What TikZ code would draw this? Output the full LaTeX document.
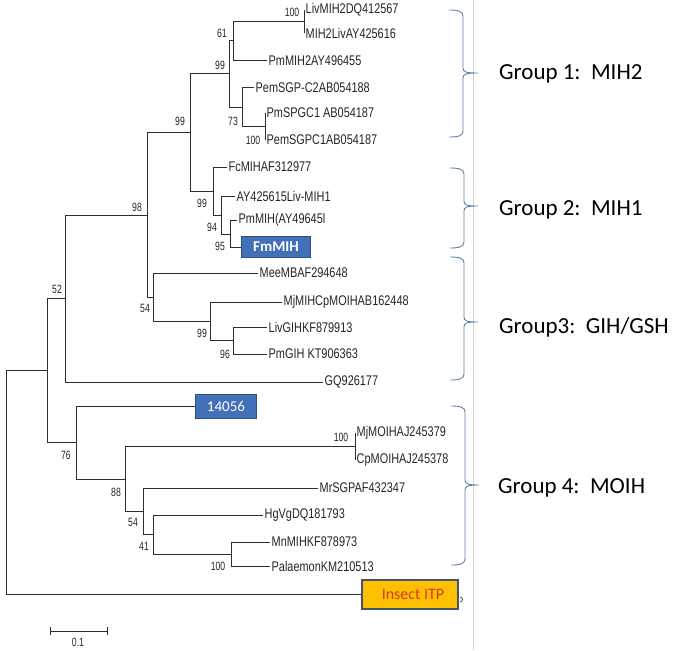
\documentclass[tikz,border=0pt]{standalone}
\usepackage{fontspec}
\setmainfont{Carlito}
\newfontfamily\tipfam[FakeStretch=0.78]{Liberation Sans}
\newfontfamily\bsfam[FakeStretch=0.72]{Liberation Sans}
\definecolor{treec}{RGB}{45,45,45}
\definecolor{bracec}{RGB}{95,130,172}
\definecolor{boxblue}{RGB}{66,113,184}
\definecolor{boxblueline}{RGB}{45,80,140}
\definecolor{itpfill}{RGB}{255,192,0}
\definecolor{itpline}{RGB}{68,84,106}
\definecolor{itptext}{RGB}{215,55,30}
\begin{document}
\begin{tikzpicture}[x=1pt,y=-1pt,
  branch/.style={draw=treec,line width=1pt},
  tip/.style={anchor=west,inner sep=1.5pt,font=\tipfam\fontsize{14}{14}\selectfont,text=black!85},
  bs/.style={inner sep=0pt,font=\bsfam\fontsize{12}{12}\selectfont,text=black!85},
  bluebox/.style={anchor=west,draw=boxblueline,line width=1pt,fill=boxblue,text=white,inner sep=0pt,font=\fontsize{15}{15}\selectfont},
  bracepath/.style={draw=bracec,line width=0.9pt},
  grouplab/.style={anchor=west,inner sep=0pt,font=\fontsize{23}{23}\selectfont,text=black}]
\useasboundingbox (0,0) rectangle (676,650);
\fill[white] (0,0) rectangle (676,650);
\draw[gray!35,line width=1pt] (473,0) -- (473,650);

% ---- coordinates: group 1
\coordinate (t1) at (304,10);
\coordinate (t2) at (304,33);
\coordinate (n100a) at (304,21.5);
\coordinate (t3) at (267,61);
\coordinate (n61) at (233,41);
\coordinate (t4) at (254,88);
\coordinate (t5) at (265,113);
\coordinate (t6) at (265,140);
\coordinate (n100b) at (265,126.5);
\coordinate (n73) at (242,107);
\coordinate (n99a) at (229,74);
% group 2
\coordinate (t7) at (227,167);
\coordinate (t8) at (235,196);
\coordinate (t9) at (237,220);
\coordinate (t10) at (241,247);
\coordinate (n95) at (230,234);
\coordinate (n94) at (221,215);
\coordinate (n99b) at (213,191);
\coordinate (n99c) at (190,132);
% group 3
\coordinate (t11) at (258,273);
\coordinate (t12) at (282,302);
\coordinate (t13) at (267,327);
\coordinate (t14) at (267,354);
\coordinate (n96) at (233,340.5);
\coordinate (n99d) at (210,321);
\coordinate (n54a) at (153,297);
\coordinate (n98) at (147,215);
\coordinate (t15) at (323,382);
\coordinate (n52) at (65,298);
\coordinate (n45) at (47,370);
% group 4
\coordinate (t16) at (195,406);
\coordinate (t17) at (355,433);
\coordinate (t18) at (355,460);
\coordinate (n100c) at (355,446.5);
\coordinate (t19) at (318,488);
\coordinate (t20) at (263,515);
\coordinate (t21) at (270,542);
\coordinate (t22) at (270,566);
\coordinate (n100d) at (231,554);
\coordinate (n41) at (153,534.5);
\coordinate (n54b) at (143,511);
\coordinate (n88) at (125,479);
\coordinate (n76) at (76,442.5);
\coordinate (root) at (6,482);
\coordinate (t23) at (361,594);

% ---- tip labels
\node[tip] (L1) at (t1) {LivMIH2DQ412567};
\node[tip] (L2) at (t2) {MIH2LivAY425616};
\node[tip] (L3) at (t3) {PmMIH2AY496455};
\node[tip] (L4) at (t4) {PemSGP-C2AB054188};
\node[tip] (L5) at (t5) {PmSPGC1 AB054187};
\node[tip] (L6) at (t6) {PemSGPC1AB054187};
\node[tip] (L7) at (t7) {FcMIHAF312977};
\node[tip] (L8) at (t8) {AY425615Liv-MIH1};
\node[tip] (L9) at (t9) {PmMIH(AY49645l};
\node[bluebox,minimum width=69pt,minimum height=21pt,font=\bfseries\fontsize{15}{15}\selectfont] (L10) at (t10) {FmMIH};
\node[tip] (L11) at (t11) {MeeMBAF294648};
\node[tip] (L12) at (t12) {MjMIHCpMOIHAB162448};
\node[tip] (L13) at (t13) {LivGIHKF879913};
\node[tip] (L14) at (t14) {PmGIH KT906363};
\node[tip] (L15) at (t15) {GQ926177};
\node[bluebox,minimum width=61pt,minimum height=24pt] (L16) at (t16) {14056};
\node[tip] (L17) at (t17) {MjMOIHAJ245379};
\node[tip] (L18) at (t18) {CpMOIHAJ245378};
\node[tip] (L19) at (t19) {MrSGPAF432347};
\node[tip] (L20) at (t20) {HgVgDQ181793};
\node[tip] (L21) at (t21) {MnMIHKF878973};
\node[tip] (L22) at (t22) {PalaemonKM210513};
\node[anchor=west,draw=itpline,line width=2pt,fill=itpfill,text=itptext,minimum width=96pt,minimum height=29pt,inner sep=0pt,font=\fontsize{16}{16}\selectfont] (L23) at (t23) {\hspace*{6pt}Insect ITP};
\draw[itpline,line width=0.8pt] ([xshift=1pt,yshift=-3pt]L23.east) arc[start angle=90,end angle=-90,radius=2.5pt];

% ---- branches
\draw[branch] (n100a) |- (t1);
\draw[branch] (n100a) |- (t2);
\draw[branch] (n61) |- (n100a);
\draw[branch] (n61) |- (t3);
\draw[branch] (n100b) |- (t5);
\draw[branch] (n100b) |- (t6);
\draw[branch] (n73) |- (t4);
\draw[branch] (n73) |- (n100b);
\draw[branch] (n99a) |- (n61);
\draw[branch] (n99a) |- (n73);
\draw[branch] (n95) |- (t9);
\draw[branch] (n95) |- (L10.west);
\draw[branch] (n94) |- (t8);
\draw[branch] (n94) |- (n95);
\draw[branch] (n99b) |- (t7);
\draw[branch] (n99b) |- (n94);
\draw[branch] (n99c) |- (n99a);
\draw[branch] (n99c) |- (n99b);
\draw[branch] (n96) |- (t13);
\draw[branch] (n96) |- (t14);
\draw[branch] (n99d) |- (t12);
\draw[branch] (n99d) |- (n96);
\draw[branch] (n54a) |- (t11);
\draw[branch] (n54a) |- (n99d);
\draw[branch] (n98) |- (n99c);
\draw[branch] (n98) |- (n54a);
\draw[branch] (n52) |- (n98);
\draw[branch] (n52) |- (t15);
\draw[branch] (n100c) |- (t17);
\draw[branch] (n100c) |- (t18);
\draw[branch] (n100d) |- (t21);
\draw[branch] (n100d) |- (t22);
\draw[branch] (n41) |- (t20);
\draw[branch] (n41) |- (n100d);
\draw[branch] (n54b) |- (t19);
\draw[branch] (n54b) |- (n41);
\draw[branch] (n88) |- (n100c);
\draw[branch] (n88) |- (n54b);
\draw[branch] (n76) |- (L16.west);
\draw[branch] (n76) |- (n88);
\draw[branch] (n45) |- (n52);
\draw[branch] (n45) |- (n76);
\draw[branch] (root) |- (n45);
\draw[branch] (root) |- (L23.west);

% ---- bootstrap values
\node[bs] (b1) at (292,12) {100};
\node[bs] (b2) at (222,33) {61};
\node[bs] (b3) at (220,65) {99};
\node[bs] (b4) at (233,121) {73};
\node[bs] (b5) at (253,140) {100};
\node[bs] (b6) at (180,121) {99};
\node[bs] (b7) at (202,203) {99};
\node[bs] (b8) at (212,227) {94};
\node[bs] (b9) at (220,246) {95};
\node[bs] (b10) at (137,207) {98};
\node[bs] (b11) at (145,308) {54};
\node[bs] (b12) at (202,333) {99};
\node[bs] (b13) at (225,354) {96};
\node[bs] (b14) at (57,289) {52};
\node[bs] (b15) at (341,437) {100};
\node[bs] (b16) at (66,455) {76};
\node[bs] (b17) at (116,492) {88};
\node[bs] (b18) at (133,522) {54};
\node[bs] (b19) at (144,546) {41};
\node[bs] (b20) at (218,566) {100};

% ---- scale bar
\coordinate (s1) at (50,631);
\coordinate (s2) at (107,631);
\draw[branch,line width=0.8pt] (s1) -- (s2);
\draw[branch,line width=0.8pt] ([yshift=-4pt]s1) -- ([yshift=4pt]s1);
\draw[branch,line width=0.8pt] ([yshift=-4pt]s2) -- ([yshift=4pt]s2);
\node[bs] (sl) at (78,642.5) {0.1};

% ---- group braces
\coordinate (g1) at (478,73);
\coordinate (g2) at (478,206);
\coordinate (g3) at (478,322);
\coordinate (g4) at (479,485);
\draw[bracepath] (449,10) .. controls (458,10) and (463,11) .. (463,16) -- (463,68) .. controls (463,72) and (466,73) .. (g1) .. controls (466,73) and (463,74) .. (463,78) -- (463,131) .. controls (463,136) and (458,137) .. (449,137);
\draw[bracepath] (450,168) .. controls (459,168) and (464,169) .. (464,174) -- (464,201) .. controls (464,205) and (467,206) .. (g2) .. controls (467,206) and (464,207) .. (464,211) -- (464,242) .. controls (464,247) and (459,248) .. (450,248);
\draw[bracepath] (450,257) .. controls (459,257) and (464,258) .. (464,263) -- (464,317) .. controls (464,321) and (467,322) .. (g3) .. controls (467,322) and (464,323) .. (464,327) -- (464,374) .. controls (464,379) and (459,380) .. (450,380);
\draw[bracepath] (451,406) .. controls (460,406) and (465,407) .. (465,412) -- (465,480) .. controls (465,484) and (468,485) .. (g4) .. controls (468,485) and (465,486) .. (465,490) -- (465,559) .. controls (465,564) and (460,565) .. (451,565);

% ---- group labels
\node[grouplab] (G1) at (499,74) {Group 1:\ \ MIH2};
\node[grouplab] (G2) at (499,210) {Group 2:\ \ MIH1};
\node[grouplab] (G3) at (499,327) {Group3:\ \ GIH/GSH};
\node[grouplab] (G4) at (498,488) {Group 4:\ \ MOIH};
\end{tikzpicture}
\end{document}
